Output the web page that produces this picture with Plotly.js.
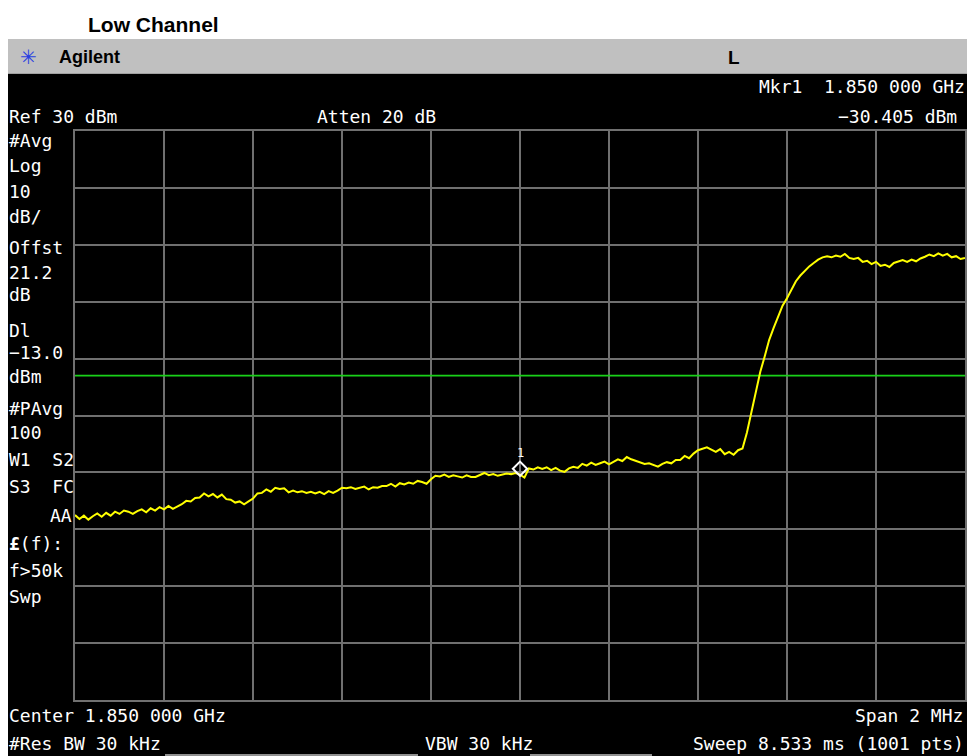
<!DOCTYPE html>
<html>
<head>
<meta charset="utf-8">
<script src="https://cdn.plot.ly/plotly-3.0.1.min.js"></script>
<style>html,body{margin:0;padding:0;background:#fff;}#chart{width:967px;height:756px;}</style>
</head>
<body>
<div id="chart"></div>
<script>
// ---- data ----
const centerGHz = 1.850;
const spanGHz = 0.002;
const refLevel = 30;      // dBm, top of screen
const dbPerDiv = 10;
const displayLine = -13;  // dBm
const markerFreq = 1.850; // GHz
const markerLevel = -30.405; // dBm

// trace amplitude (dBm), 201 readings evenly spaced across the 2 MHz span
const traceDbm = [
-37.5,-38.2,-37.6,-38.3,-37.7,-37.2,-37.8,-37.1,-37.6,-36.9,
-37.3,-36.7,-36.9,-37.3,-36.8,-36.5,-37.0,-36.3,-36.7,-36.1,
-36.5,-35.9,-36.4,-36.0,-35.6,-35.0,-35.1,-34.5,-34.4,-33.7,
-34.2,-33.8,-34.4,-33.9,-34.7,-34.8,-35.3,-35.1,-35.6,-35.1,
-34.6,-33.7,-33.6,-33.0,-33.4,-32.7,-32.9,-32.8,-33.5,-33.2,
-33.5,-33.3,-33.6,-33.4,-33.7,-33.4,-33.8,-33.3,-33.6,-33.2,
-32.7,-32.8,-32.6,-32.9,-32.7,-32.5,-33.0,-32.6,-32.7,-32.4,
-32.4,-32.0,-32.5,-31.9,-32.1,-31.8,-32.0,-31.5,-31.7,-32.0,
-31.2,-30.6,-30.7,-30.4,-30.8,-30.5,-30.7,-30.9,-30.5,-30.8,
-30.8,-30.5,-30.1,-30.5,-30.3,-30.6,-30.4,-30.2,-30.3,-30.1,
-30.4,-30.9,-29.3,-29.5,-29.1,-29.4,-29.1,-29.6,-29.2,-29.7,
-29.9,-29.3,-29.0,-29.2,-28.5,-28.8,-28.3,-28.7,-28.4,-28.1,
-28.6,-28.2,-27.7,-28.0,-27.3,-27.7,-28.0,-28.3,-28.5,-28.4,
-28.7,-29.0,-28.5,-28.2,-28.4,-27.8,-27.8,-27.1,-27.5,-26.7,
-26.1,-25.8,-25.6,-26.0,-26.4,-25.9,-26.8,-26.4,-26.9,-26.1,
-25.8,-23.0,-19.5,-15.8,-12.3,-9.6,-6.7,-4.6,-2.5,-0.7,
0.6,2.2,3.6,4.6,5.5,6.2,6.8,7.4,7.8,8.0,
7.8,8.1,7.9,8.4,7.7,7.5,7.7,7.0,7.2,6.6,
7.0,6.3,6.5,6.1,6.8,7.0,7.3,7.0,7.4,7.1,
7.6,7.9,8.3,8.0,8.5,8.1,8.4,7.8,8.0,7.5,
7.7
];

const startGHz = centerGHz - spanGHz / 2;
const stopGHz = centerGHz + spanGHz / 2;
const traceFreq = traceDbm.map((_, i) => startGHz + spanGHz * i / (traceDbm.length - 1));

// ---- layout helpers (pixel -> paper) ----
const L = 75, R = 965, T = 131, B = 700;
const px = x => (x - L) / (R - L);
const py = y => (B - y) / (B - T);

const mono = "DejaVu Sans Mono, Liberation Mono, monospace";
const W = "#ffffff";
function txt(text, x, y, anchor, opts) {
  opts = opts || {};
  return {
    text: text, xref: "paper", yref: "paper", x: px(x), y: py(y),
    xanchor: anchor || "left", yanchor: "middle", showarrow: false,
    font: {family: opts.family || mono, size: opts.size || 18, color: opts.color || W},
    borderpad: 0
  };
}

const annotations = [
  // header
  txt("<b>Agilent</b>", 58, 57, "left", {family: "Liberation Sans, Arial", size: 18, color: "#000"}),
  txt("✳", 19, 57, "left", {family: "DejaVu Sans", size: 20, color: "#2a3fe0"}),
  txt("<b>L</b>", 727, 57, "left", {family: "Liberation Sans, Arial", size: 19, color: "#000"}),
  txt("Mkr1  1.850 000 GHz", 966, 87, "right"),
  txt("Ref 30 dBm", 8, 117, "left"),
  txt("Atten 20 dB", 316, 117, "left"),
  txt("\u221230.405 dBm", 958, 116, "right"),
  // left column
  txt("#Avg", 8, 140), txt("Log", 8, 165), txt("10", 8, 191), txt("dB/", 8, 216),
  txt("Offst", 8, 247), txt("21.2", 8, 272), txt("dB", 8, 294),
  txt("Dl", 8, 330), txt("\u221213.0", 8, 352), txt("dBm", 8, 376),
  txt("#PAvg", 8, 408), txt("100", 8, 433), txt("W1  S2", 8, 460), txt("S3  FC", 8, 487),
  txt("AA", 73, 515, "right"),
  txt("<b>£</b>(f):", 8, 543), txt("f>50k", 8, 570), txt("Swp", 8, 596),
  // footer
  txt("Center 1.850 000 GHz", 8, 715), txt("Span 2 MHz", 964, 715, "right"),
  txt("#Res BW 30 kHz", 8, 743), txt("VBW 30 kHz", 424, 743),
  txt("Sweep 8.533 ms (1001 pts)", 965, 743, "right"),
  // marker label
  {text: "1", x: markerFreq, y: markerLevel, xref: "x", yref: "y", showarrow: false,
   yshift: 22, font: {family: mono, size: 12, color: W}}
];

const shapes = [
  {type: "rect", xref: "paper", yref: "paper", x0: px(8), x1: px(967), y0: py(74), y1: py(39),
   fillcolor: "#c0c0c0", line: {width: 0}, layer: "below"},
  {type: "line", xref: "paper", yref: "paper", x0: px(8), x1: px(967), y0: py(74), y1: py(74),
   line: {color: "#808080", width: 1}, layer: "below"},
  {type: "rect", xref: "paper", yref: "paper", x0: px(8), x1: px(967), y0: py(756), y1: py(74),
   fillcolor: "#000000", line: {width: 0}, layer: "below"},
  {type: "line", xref: "paper", yref: "paper", x0: px(165), x1: px(418), y0: py(755), y1: py(755),
   line: {color: "#909090", width: 2}, layer: "below"},
  {type: "line", xref: "paper", yref: "paper", x0: px(530), x1: px(652), y0: py(755), y1: py(755),
   line: {color: "#909090", width: 2}, layer: "below"}
];

const data = [
  {x: [startGHz, stopGHz], y: [displayLine, displayLine], type: "scatter", mode: "lines",
   line: {color: "#19d119", width: 1.6}, hoverinfo: "skip"},
  {x: traceFreq, y: traceDbm, type: "scatter", mode: "lines",
   line: {color: "#ffff00", width: 2}, hoverinfo: "skip"},
  {x: [markerFreq], y: [markerLevel], type: "scatter", mode: "markers",
   marker: {symbol: "diamond-open", size: 11, color: W, line: {width: 2, color: W},
            angle: 180, standoff: 6}, hoverinfo: "skip"}
];

const layout = {
  width: 967, height: 756,
  margin: {l: L, r: 967 - R, t: T, b: 756 - B, pad: 0},
  paper_bgcolor: "#ffffff", plot_bgcolor: "#000000",
  showlegend: false,
  title: {text: "<b>Low Channel</b>", x: 88 / 967, xanchor: "left", xref: "container",
          y: 1 - 25 / 756, yanchor: "middle", yref: "container",
          font: {family: "Liberation Sans, Arial", size: 21, color: "#000"}},
  xaxis: {range: [startGHz, stopGHz], tick0: startGHz, dtick: spanGHz / 10,
          showticklabels: false, ticks: "", showgrid: true, gridcolor: "#707070", gridwidth: 2,
          zeroline: false, showline: true, linecolor: "#707070", linewidth: 2, mirror: true},
  yaxis: {range: [refLevel - 10 * dbPerDiv, refLevel], tick0: refLevel, dtick: dbPerDiv,
          showticklabels: false, ticks: "", showgrid: true, gridcolor: "#707070", gridwidth: 2,
          zeroline: false, showline: true, linecolor: "#707070", linewidth: 2, mirror: true},
  annotations: annotations,
  shapes: shapes
};

Plotly.newPlot("chart", data, layout, {staticPlot: true, displayModeBar: false});
</script>
</body>
</html>
